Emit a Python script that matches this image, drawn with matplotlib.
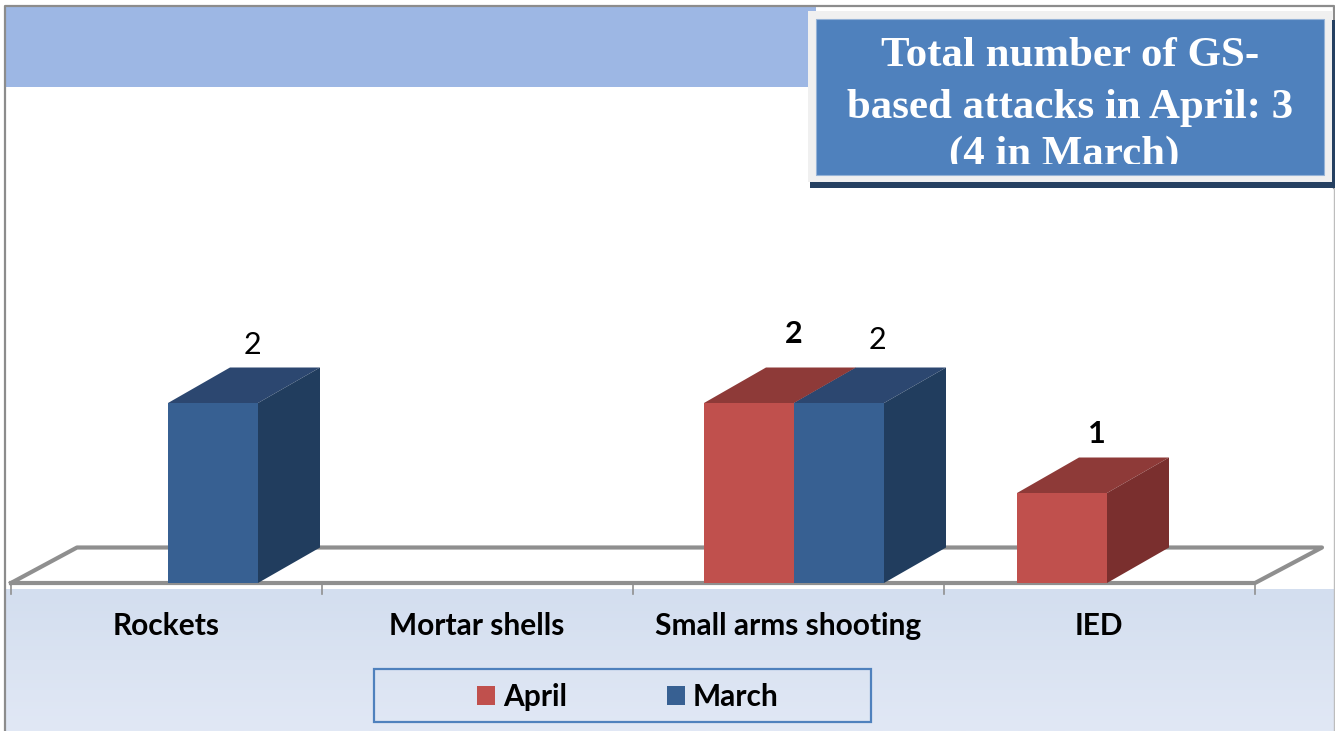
import numpy as np
import matplotlib
matplotlib.use('Agg')
import matplotlib.pyplot as plt
from matplotlib.patches import Rectangle, Patch

W,H=1335,731
categories=['Rockets','Mortar shells','Small arms shooting','IED']
april=[0,0,2,1]
march=[2,0,2,0]
title_lines=['Total number of GS-','based attacks in April: 3','(4 in March)']
# label offsets from the bar's category position and top, in px
april_off=[None,None,(0,69),(-10,59)]
march_off=[(84,58),None,(83,63),None]

RED=('#c0504d','#8e3a38','#7a2f2e'); BLUE=('#376092','#2c4770','#213d5e')
GRAY='#8f8f8f'
FS=21.5
plt.rcParams['font.family']=['Lato','DejaVu Sans']

fig=plt.figure(figsize=(W/100,H/100),dpi=100,facecolor='white')
# page furniture in pixel coordinates
bg=fig.add_axes([0,0,1,1]); bg.set_xlim(0,W); bg.set_ylim(H,0); bg.axis('off')
bg.add_patch(Rectangle((6,7),810,80,fc='#9db7e4',ec='none'))
grad=np.linspace(0,1,64)[:,None]
cm=matplotlib.colors.LinearSegmentedColormap.from_list('band',['#d3deef','#e1e8f5'])
bg.imshow(grad,extent=(6,W,H,589),cmap=cm,aspect='auto',zorder=1)
bg.set_xlim(0,W); bg.set_ylim(H,0)
bg.plot([5,5,1334,1334],[H,6,6,188],color='#8c8c8c',lw=1.6,zorder=2)
bg.plot([1334,1334],[188,H],color='#bdbdbd',lw=1,zorder=2)
bg.add_patch(Rectangle((810,20),525,168,fc='#254061',ec='none',zorder=3))
bg.add_patch(Rectangle((808,11),524,171,fc='#f0f0f0',ec='none',zorder=4))
box=Rectangle((816,19),508,156,fc='#4f81bd',ec='#95b3d7',lw=.8,zorder=5); bg.add_patch(box)
clip=Rectangle((816,19),508,145,transform=bg.transData)
for x,y,line in zip([1070,1070,1064],[56,108,155],title_lines):
    t=bg.text(x,y,line,color='white',fontsize=30.9,fontweight='bold',family='Liberation Serif',ha='center',va='center',zorder=6)
    t.set_clip_path(clip); t.set_clip_on(True)
bg.add_patch(Rectangle((373.5,668.5),497,53,fc='none',ec='#4f81bd',lw=1.6,zorder=3))

# chart axes: category i sits at 168+313*i, one unit of value is 90 px
ppx,ppy=313.,90.
base=583.
ax=fig.add_axes([0,0,1,1]); ax.patch.set_alpha(0); ax.axis('off')
ax.set_xlim(-168/ppx,(W-168)/ppx); ax.set_ylim(-(H-base)/ppy,base/ppy)
X=lambda p:(p-168)/ppx
Y=lambda p:(base-p)/ppy
dx,dy=62/ppx,35.5/ppy
w=90/ppx

# floor
fl=X(11); fr=X(1255)
ax.plot([fl,fr,fr+67/ppx,fl+66/ppx,fl],[0,0,dy,dy,0],color=GRAY,lw=3,solid_joinstyle='round',zorder=2)
for p in [11,322,633,944,1255]:
    ax.plot([X(p),X(p)],[Y(584),Y(594)],color=GRAY,lw=1.2,zorder=2)

def bar3d(x0,v,cols):
    ax.bar(x0,v,w,align='edge',color=cols[0],zorder=3)
    ax.fill([x0,x0+w,x0+w+dx,x0+dx],[v,v,v+dy,v+dy],color=cols[1],lw=0,zorder=3)
    ax.fill([x0+w,x0+w+dx,x0+w+dx,x0+w],[0,dy,v+dy,v],color=cols[2],lw=0,zorder=3)

def value_label(i,v,off,weight):
    ax.annotate(str(v),(i,v),xytext=(off[0]*.72,off[1]*.72),textcoords='offset points',fontsize=22,
                fontweight=weight,ha='center',va='center',zorder=5)

for i,(a,m) in enumerate(zip(april,march)):
    if a:
        bar3d(i-w,a,RED); value_label(i,a,april_off[i],'bold')
    if m:
        bar3d(i,m,BLUE); value_label(i,m,march_off[i],'normal')

for i,c in enumerate(categories):
    ax.text(X(166+311*i),Y(626),c,fontsize=FS,fontweight='bold',ha='center',va='center',zorder=5)

h=[Patch(fc=RED[0],label='April'),Patch(fc=BLUE[0],label='March')]
ax.legend(handles=h,loc='center',bbox_to_anchor=(627.75/W,1-697/H),ncols=2,frameon=False,
          prop={'weight':'bold','size':FS},handlelength=.6,handleheight=.6,handletextpad=.25,columnspacing=3.35)
fig.savefig('out.png',dpi=100)
